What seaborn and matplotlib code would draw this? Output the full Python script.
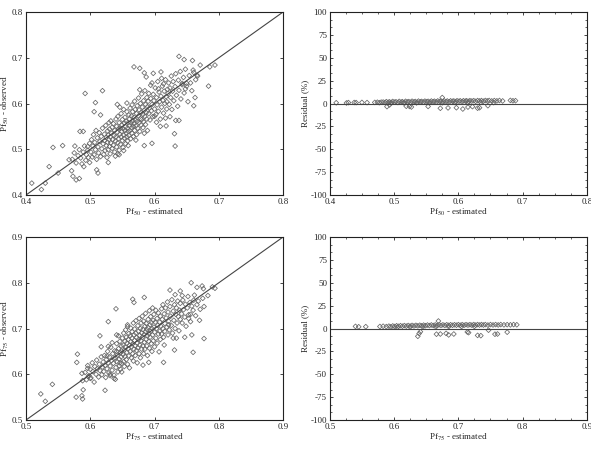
import numpy as np
import pandas as pd
import matplotlib
matplotlib.use('Agg')
import matplotlib.pyplot as plt
from matplotlib.ticker import MultipleLocator
import seaborn as sns

# Pf50: (estimated, observed) points
pf50_points = [
	# outliers / sparse points
	(0.409, 0.426), (0.424, 0.412), (0.430, 0.426), (0.436, 0.462), (0.442, 0.504), (0.450, 0.448),
	(0.457, 0.508), (0.467, 0.477), (0.471, 0.453), (0.473, 0.441), (0.476, 0.507), (0.478, 0.433),
	(0.483, 0.436), (0.484, 0.539), (0.489, 0.539), (0.492, 0.622), (0.490, 0.462), (0.496, 0.506),
	(0.508, 0.602), (0.506, 0.582), (0.510, 0.455), (0.512, 0.448), (0.519, 0.628), (0.516, 0.575),
	(0.528, 0.471), (0.539, 0.485), (0.542, 0.598), (0.545, 0.488), (0.568, 0.680), (0.577, 0.677),
	(0.584, 0.667), (0.587, 0.658), (0.584, 0.508), (0.596, 0.513), (0.598, 0.666), (0.610, 0.669),
	(0.632, 0.507), (0.631, 0.534), (0.633, 0.563), (0.638, 0.563), (0.638, 0.703), (0.646, 0.696),
	(0.659, 0.694), (0.660, 0.673), (0.661, 0.595), (0.663, 0.613), (0.671, 0.684), (0.684, 0.638),
	(0.694, 0.684), (0.686, 0.680), (0.666, 0.662), (0.609, 0.550), (0.618, 0.551), (0.617, 0.568),
	(0.624, 0.571), (0.648, 0.632), (0.650, 0.644), (0.643, 0.644),
	# main cloud
	(0.472, 0.478), (0.475, 0.492), (0.478, 0.470), (0.481, 0.486), (0.483, 0.499), (0.485, 0.481),
	(0.487, 0.468), (0.489, 0.494), (0.491, 0.507), (0.493, 0.476), (0.494, 0.488), (0.496, 0.498),
	(0.497, 0.482), (0.499, 0.513), (0.499, 0.471),
	(0.501, 0.494), (0.502, 0.521), (0.503, 0.483), (0.504, 0.507), (0.505, 0.532), (0.506, 0.488),
	(0.507, 0.515), (0.508, 0.499), (0.509, 0.541), (0.510, 0.478), (0.511, 0.525), (0.512, 0.505),
	(0.513, 0.492), (0.514, 0.536), (0.515, 0.517), (0.516, 0.484), (0.517, 0.528), (0.518, 0.501),
	(0.519, 0.546), (0.520, 0.512), (0.521, 0.489), (0.522, 0.533), (0.522, 0.519), (0.523, 0.497),
	(0.524, 0.552), (0.525, 0.508), (0.525, 0.526), (0.526, 0.482), (0.527, 0.540), (0.527, 0.515),
	(0.528, 0.499), (0.528, 0.531), (0.529, 0.558), (0.529, 0.521), (0.530, 0.506), (0.530, 0.544),
	(0.531, 0.490), (0.531, 0.527), (0.532, 0.514), (0.532, 0.562),
	(0.533, 0.535), (0.534, 0.502), (0.534, 0.548), (0.535, 0.521), (0.536, 0.509), (0.536, 0.556),
	(0.537, 0.530), (0.538, 0.494), (0.538, 0.541), (0.539, 0.518), (0.540, 0.566), (0.540, 0.527),
	(0.541, 0.505), (0.541, 0.550), (0.542, 0.537), (0.543, 0.514), (0.543, 0.572), (0.544, 0.545),
	(0.544, 0.523), (0.545, 0.498), (0.545, 0.558), (0.546, 0.533), (0.547, 0.546), (0.547, 0.511),
	(0.548, 0.578), (0.548, 0.527), (0.549, 0.553), (0.549, 0.539), (0.550, 0.519), (0.550, 0.565),
	(0.551, 0.545), (0.551, 0.504), (0.552, 0.531), (0.552, 0.587), (0.553, 0.557), (0.553, 0.524),
	(0.554, 0.541), (0.554, 0.570), (0.555, 0.512), (0.555, 0.549), (0.556, 0.535), (0.556, 0.561),
	(0.557, 0.527), (0.557, 0.582), (0.558, 0.546), (0.558, 0.518), (0.559, 0.558), (0.559, 0.539),
	(0.560, 0.575), (0.560, 0.530), (0.546, 0.592), (0.552, 0.497), (0.557, 0.601), (0.543, 0.490),
	(0.559, 0.508),
	(0.561, 0.552), (0.561, 0.566), (0.562, 0.541), (0.562, 0.590), (0.563, 0.558), (0.563, 0.523),
	(0.564, 0.573), (0.564, 0.547), (0.565, 0.535), (0.565, 0.597), (0.566, 0.562), (0.566, 0.582),
	(0.567, 0.550), (0.567, 0.528), (0.568, 0.570), (0.568, 0.556), (0.569, 0.605), (0.569, 0.541),
	(0.570, 0.587), (0.570, 0.564), (0.571, 0.551), (0.572, 0.578), (0.572, 0.532), (0.573, 0.595),
	(0.573, 0.561), (0.574, 0.546), (0.575, 0.573), (0.575, 0.612), (0.576, 0.558), (0.576, 0.586),
	(0.577, 0.539), (0.578, 0.567), (0.578, 0.600), (0.579, 0.553), (0.579, 0.580), (0.580, 0.621),
	(0.580, 0.565), (0.581, 0.592), (0.582, 0.547), (0.582, 0.576), (0.583, 0.606), (0.583, 0.560),
	(0.584, 0.585), (0.585, 0.572), (0.585, 0.628), (0.586, 0.598), (0.586, 0.554), (0.587, 0.580),
	(0.588, 0.613), (0.588, 0.566), (0.589, 0.593), (0.589, 0.541), (0.571, 0.520), (0.577, 0.630),
	(0.584, 0.535),
	(0.590, 0.605), (0.591, 0.578), (0.591, 0.622), (0.592, 0.590), (0.593, 0.564), (0.594, 0.611),
	(0.594, 0.640), (0.595, 0.584), (0.596, 0.598), (0.597, 0.571), (0.598, 0.620), (0.599, 0.606),
	(0.600, 0.588), (0.601, 0.634), (0.602, 0.576), (0.603, 0.613), (0.604, 0.597), (0.605, 0.648),
	(0.606, 0.583), (0.607, 0.625), (0.608, 0.604), (0.609, 0.566), (0.610, 0.616), (0.611, 0.592),
	(0.612, 0.638), (0.613, 0.607), (0.614, 0.579), (0.615, 0.627), (0.616, 0.600), (0.617, 0.652),
	(0.618, 0.615), (0.619, 0.588), (0.620, 0.631), (0.596, 0.645), (0.603, 0.559), (0.611, 0.655),
	(0.606, 0.632), (0.600, 0.572), (0.614, 0.643), (0.619, 0.604),
	(0.621, 0.622), (0.622, 0.645), (0.623, 0.598), (0.624, 0.634), (0.625, 0.613), (0.626, 0.660),
	(0.627, 0.587), (0.628, 0.627), (0.629, 0.648), (0.630, 0.606), (0.632, 0.637), (0.633, 0.665),
	(0.634, 0.618), (0.636, 0.594), (0.637, 0.651), (0.638, 0.629), (0.640, 0.670), (0.641, 0.610),
	(0.643, 0.641), (0.645, 0.657), (0.646, 0.623), (0.648, 0.675), (0.650, 0.638), (0.652, 0.604),
	(0.654, 0.661), (0.656, 0.645), (0.658, 0.628), (0.661, 0.668), (0.664, 0.652), (0.667, 0.660),
]

# Pf75: (estimated, observed)
pf75_points = [
	# outliers / sparse points
	(0.523, 0.557), (0.530, 0.541), (0.541, 0.578), (0.578, 0.550), (0.579, 0.626), (0.580, 0.644),
	(0.587, 0.602), (0.588, 0.586), (0.587, 0.553), (0.588, 0.546), (0.589, 0.566), (0.596, 0.613),
	(0.597, 0.595), (0.600, 0.591), (0.615, 0.684), (0.617, 0.660), (0.623, 0.565), (0.628, 0.715),
	(0.631, 0.597), (0.637, 0.591), (0.640, 0.743), (0.641, 0.686), (0.658, 0.708), (0.666, 0.764),
	(0.668, 0.757), (0.682, 0.620), (0.684, 0.768), (0.691, 0.626), (0.714, 0.626), (0.715, 0.664),
	(0.729, 0.679), (0.731, 0.653), (0.734, 0.679), (0.740, 0.782), (0.743, 0.772), (0.747, 0.681),
	(0.758, 0.686), (0.760, 0.648), (0.757, 0.800), (0.766, 0.790), (0.774, 0.793), (0.777, 0.748),
	(0.777, 0.678), (0.770, 0.718), (0.783, 0.772), (0.790, 0.791), (0.794, 0.788), (0.776, 0.787),
	(0.761, 0.762), (0.753, 0.722), (0.756, 0.731), (0.722, 0.708), (0.724, 0.784), (0.732, 0.774),
	# main cloud
	(0.592, 0.604), (0.594, 0.588), (0.596, 0.619), (0.598, 0.597), (0.600, 0.611), (0.601, 0.592),
	(0.603, 0.625), (0.604, 0.606), (0.606, 0.583), (0.607, 0.617), (0.609, 0.600), (0.610, 0.631),
	(0.611, 0.612), (0.613, 0.594), (0.614, 0.622), (0.615, 0.608), (0.617, 0.638), (0.618, 0.599),
	(0.619, 0.616), (0.620, 0.627),
	(0.621, 0.606), (0.622, 0.641), (0.623, 0.619), (0.624, 0.593), (0.625, 0.632), (0.626, 0.612),
	(0.627, 0.650), (0.628, 0.625), (0.629, 0.603), (0.630, 0.638), (0.631, 0.618), (0.632, 0.659),
	(0.633, 0.630), (0.634, 0.609), (0.635, 0.645), (0.636, 0.624), (0.637, 0.598), (0.638, 0.651),
	(0.639, 0.636), (0.640, 0.615), (0.641, 0.667), (0.642, 0.642), (0.642, 0.627), (0.643, 0.605),
	(0.644, 0.656), (0.645, 0.633), (0.645, 0.618), (0.646, 0.672), (0.647, 0.647), (0.647, 0.611),
	(0.648, 0.638), (0.648, 0.662), (0.649, 0.624), (0.649, 0.651), (0.650, 0.679), (0.634, 0.669),
	(0.628, 0.661), (0.639, 0.589), (0.626, 0.640), (0.644, 0.684), (0.631, 0.600), (0.637, 0.634),
	(0.641, 0.650), (0.646, 0.625), (0.649, 0.605),
	(0.651, 0.643), (0.651, 0.664), (0.652, 0.628), (0.652, 0.690), (0.653, 0.653), (0.653, 0.617),
	(0.654, 0.672), (0.654, 0.639), (0.655, 0.659), (0.655, 0.697), (0.656, 0.632), (0.656, 0.681),
	(0.657, 0.648), (0.657, 0.668), (0.658, 0.622), (0.658, 0.704), (0.659, 0.656), (0.659, 0.676),
	(0.660, 0.640), (0.660, 0.689), (0.661, 0.663), (0.661, 0.614), (0.662, 0.684), (0.662, 0.650),
	(0.663, 0.671), (0.663, 0.701), (0.664, 0.636), (0.664, 0.660), (0.665, 0.693), (0.665, 0.679),
	(0.666, 0.645), (0.666, 0.667), (0.667, 0.712), (0.667, 0.629), (0.668, 0.686), (0.668, 0.655),
	(0.669, 0.674), (0.669, 0.699), (0.670, 0.641), (0.670, 0.662), (0.671, 0.690), (0.671, 0.717),
	(0.672, 0.652), (0.672, 0.680), (0.673, 0.668), (0.673, 0.625), (0.674, 0.706), (0.674, 0.658),
	(0.675, 0.694), (0.675, 0.676), (0.676, 0.645), (0.676, 0.722), (0.677, 0.685), (0.677, 0.664),
	(0.678, 0.700), (0.678, 0.636), (0.679, 0.673), (0.679, 0.712), (0.680, 0.655), (0.680, 0.690),
	(0.681, 0.681), (0.681, 0.727), (0.682, 0.662), (0.682, 0.698), (0.683, 0.645), (0.683, 0.716),
	(0.684, 0.687), (0.684, 0.670), (0.685, 0.705), (0.685, 0.655), (0.686, 0.693), (0.686, 0.733),
	(0.687, 0.676), (0.687, 0.711), (0.688, 0.662), (0.688, 0.698), (0.689, 0.684), (0.689, 0.641),
	(0.690, 0.720), (0.690, 0.702), (0.691, 0.672), (0.691, 0.689), (0.692, 0.739), (0.692, 0.657),
	(0.693, 0.708), (0.693, 0.681), (0.694, 0.726), (0.694, 0.694), (0.695, 0.667), (0.695, 0.713),
	(0.696, 0.650), (0.696, 0.700), (0.697, 0.745), (0.697, 0.686), (0.698, 0.718), (0.698, 0.673),
	(0.699, 0.703), (0.699, 0.731), (0.700, 0.692), (0.700, 0.660), (0.701, 0.714), (0.702, 0.679),
	(0.702, 0.740), (0.703, 0.700), (0.704, 0.722), (0.704, 0.668), (0.705, 0.707), (0.706, 0.688),
	(0.706, 0.734), (0.707, 0.649), (0.708, 0.714), (0.708, 0.694), (0.709, 0.727), (0.709, 0.676),
	(0.710, 0.705),
	(0.711, 0.743), (0.711, 0.688), (0.712, 0.720), (0.713, 0.700), (0.713, 0.752), (0.714, 0.681),
	(0.715, 0.732), (0.716, 0.711), (0.716, 0.694), (0.717, 0.745), (0.718, 0.723), (0.719, 0.703),
	(0.720, 0.758), (0.721, 0.686), (0.721, 0.736), (0.722, 0.716), (0.723, 0.697), (0.724, 0.748),
	(0.725, 0.727), (0.726, 0.707), (0.727, 0.763), (0.728, 0.690), (0.729, 0.738), (0.730, 0.718),
	(0.731, 0.752), (0.732, 0.700), (0.733, 0.731), (0.734, 0.745), (0.735, 0.712), (0.736, 0.760),
	(0.737, 0.726), (0.738, 0.695), (0.739, 0.740), (0.740, 0.720), (0.740, 0.755),
	(0.742, 0.732), (0.743, 0.712), (0.744, 0.762), (0.745, 0.741), (0.747, 0.725), (0.748, 0.753),
	(0.749, 0.705), (0.751, 0.745), (0.752, 0.770), (0.753, 0.730), (0.755, 0.757), (0.756, 0.715),
	(0.758, 0.749), (0.760, 0.740), (0.762, 0.773), (0.764, 0.728), (0.766, 0.752), (0.768, 0.760),
	(0.771, 0.742), (0.775, 0.766),
]

# residual panels: (estimated, residual %)
res50_points = [
	(0.410, 0.8), (0.426, 0.6), (0.429, 1.0), (0.438, 1.1), (0.441, 1.0), (0.450, 1.2), (0.458, 1.0),
	(0.470, 1.2), (0.474, 1.4), (0.477, 0.9), (0.480, 1.5),
	(0.483, 1.6), (0.486, 1.1), (0.488, 2.0), (0.491, 1.4), (0.493, 1.8), (0.496, 1.2), (0.498, 2.2),
	(0.501, 1.5), (0.503, 1.9), (0.506, 1.1), (0.508, 2.3), (0.511, 1.6), (0.513, 2.0), (0.516, 1.3),
	(0.518, 2.4), (0.521, 1.7), (0.523, 2.1), (0.526, 1.4), (0.528, 2.5), (0.531, 1.8), (0.533, 2.2),
	(0.536, 1.5), (0.538, 2.6), (0.541, 1.9), (0.543, 2.3), (0.546, 1.6), (0.548, 2.6), (0.551, 2.0),
	(0.553, 2.4), (0.556, 1.7), (0.558, 2.7), (0.561, 2.1), (0.563, 2.5), (0.566, 1.8), (0.568, 2.8),
	(0.571, 2.2), (0.573, 2.6), (0.576, 1.9), (0.578, 2.8), (0.581, 2.3), (0.583, 2.7), (0.586, 2.0),
	(0.588, 2.9), (0.591, 2.4), (0.593, 2.8), (0.596, 2.1), (0.598, 3.0), (0.601, 2.5), (0.603, 2.9),
	(0.606, 2.2), (0.608, 3.0), (0.611, 2.6), (0.613, 3.0), (0.616, 2.3), (0.618, 3.1), (0.621, 2.7),
	(0.624, 3.1), (0.627, 2.4), (0.630, 3.2), (0.633, 2.8), (0.636, 3.2), (0.639, 2.5), (0.642, 3.3),
	(0.645, 2.9), (0.648, 3.3), (0.652, 2.8), (0.656, 3.2), (0.660, 2.9), (0.664, 3.3), (0.669, 2.8),
	(0.681, 3.4), (0.685, 3.0), (0.689, 3.1),
	(0.495, 0.6), (0.515, 0.8), (0.535, 0.7), (0.555, 0.9), (0.575, 0.8), (0.595, 1.0), (0.615, 0.9),
	(0.635, 1.1), (0.655, 1.0),
	(0.575, 6.5), (0.489, -3.4), (0.493, -1.5), (0.519, -3.0), (0.524, -3.2), (0.527, -3.8),
	(0.553, -3.2), (0.572, -5.2), (0.584, -4.8), (0.597, -4.6), (0.607, -6.0), (0.615, -3.9),
	(0.622, -3.4), (0.630, -5.1), (0.633, -4.6), (0.646, -2.4),
]

res75_points = [
	(0.540, 2.3), (0.545, 1.9), (0.556, 2.0), (0.578, 2.2), (0.583, 2.5), (0.588, 2.1),
	(0.592, 2.6), (0.595, 1.9), (0.598, 2.8), (0.601, 2.2), (0.604, 3.0), (0.607, 2.4), (0.610, 3.1),
	(0.613, 2.5), (0.616, 3.2), (0.619, 2.6), (0.622, 3.3), (0.625, 2.7), (0.628, 3.4), (0.631, 2.8),
	(0.634, 3.5), (0.637, 2.9), (0.640, 3.6), (0.643, 3.0), (0.646, 3.7), (0.649, 3.1), (0.652, 3.8),
	(0.655, 3.2), (0.658, 3.9), (0.661, 3.3), (0.664, 3.9), (0.667, 3.3), (0.670, 4.0), (0.673, 3.4),
	(0.676, 4.0), (0.679, 3.4), (0.682, 4.1), (0.685, 3.5), (0.688, 4.1), (0.691, 3.5), (0.694, 4.1),
	(0.697, 3.6), (0.700, 4.2), (0.703, 3.6), (0.706, 4.2), (0.709, 3.6), (0.712, 4.2), (0.715, 3.7),
	(0.718, 4.2), (0.721, 3.7), (0.724, 4.3), (0.727, 3.7), (0.730, 4.3), (0.733, 3.8), (0.736, 4.3),
	(0.739, 3.8), (0.742, 4.3), (0.746, 3.8), (0.750, 4.3), (0.754, 3.9), (0.758, 4.3), (0.762, 3.9),
	(0.766, 4.3), (0.771, 4.0), (0.776, 4.2), (0.781, 4.0), (0.786, 4.3), (0.791, 4.1),
	(0.605, 1.4), (0.625, 1.6), (0.645, 1.8), (0.665, 1.9), (0.685, 2.1), (0.705, 2.2), (0.725, 2.3),
	(0.669, 8.2), (0.637, -8.5), (0.639, -5.5), (0.641, -3.5), (0.666, -6.2), (0.672, -6.0),
	(0.681, -5.3), (0.685, -7.0), (0.693, -6.0), (0.714, -3.8), (0.716, -4.5), (0.730, -7.5),
	(0.735, -7.8), (0.747, -1.8), (0.757, -6.2), (0.761, -6.0), (0.776, -4.0),
]

xlim50 = [0.4, 0.8]
xlim75 = [0.5, 0.9]
ticks50 = [0.4, 0.5, 0.6, 0.7, 0.8]
ticks75 = [0.5, 0.6, 0.7, 0.8, 0.9]
res_ticks = [-100, -75, -50, -25, 0, 25, 50, 75, 100]

sns.set_style('ticks')
plt.rcParams['font.family'] = ['Liberation Serif', 'DejaVu Serif']
plt.rcParams['mathtext.fontset'] = 'stix'

df50 = pd.DataFrame(pf50_points, columns=['est', 'obs'])
df75 = pd.DataFrame(pf75_points, columns=['est', 'obs'])
dres50 = pd.DataFrame(res50_points, columns=['est', 'res'])
dres75 = pd.DataFrame(res75_points, columns=['est', 'res'])

fig = plt.figure(figsize=(5.91, 4.53), dpi=100)
ax1 = fig.add_axes([0.044, 0.5695, 0.435, 0.404])
ax2 = fig.add_axes([0.558, 0.5695, 0.435, 0.404])
ax3 = fig.add_axes([0.044, 0.0728, 0.435, 0.404])
ax4 = fig.add_axes([0.558, 0.0728, 0.435, 0.404])

mk = dict(marker='D', s=6, facecolor='none', edgecolor='#666666', linewidth=0.55)
fs = 6.5

def style_ax(ax, xlim, ylim, xticks, yticks, xlabel, ylabel):
	ax.set_xlim(xlim)
	ax.set_ylim(ylim)
	ax.set_xticks(xticks)
	ax.set_yticks(yticks)
	ax.set_xticklabels([f'{t:g}' for t in xticks], fontsize=fs)
	ax.set_yticklabels([f'{t:g}' for t in yticks], fontsize=fs)
	ax.tick_params(direction='in', top=True, right=True, length=2.5, width=0.6, pad=2)
	ax.set_xlabel(xlabel, fontsize=fs, labelpad=1)
	ax.set_ylabel(ylabel, fontsize=fs, labelpad=1)
	for s in ax.spines.values():
		s.set_linewidth(0.8)
		s.set_color('#222222')

def res_minor(ax):
	ax.xaxis.set_minor_locator(MultipleLocator(0.025))
	ax.yaxis.set_minor_locator(MultipleLocator(25 / 3))
	ax.tick_params(which='minor', direction='in', top=True, right=True, length=1.5, width=0.5)

# Pf50 observed vs estimated
sns.scatterplot(ax=ax1, data=df50, x='est', y='obs', legend=False, **mk)
ax1.plot(xlim50, xlim50, color='#444444', lw=0.8)
style_ax(ax1, xlim50, xlim50, ticks50, ticks50, r'Pf$_{50}$ - estimated', r'Pf$_{50}$ - observed')

# Pf50 residuals
sns.scatterplot(ax=ax2, data=dres50, x='est', y='res', legend=False, **mk)
ax2.axhline(0, color='#444444', lw=0.8)
style_ax(ax2, xlim50, [-100, 100], ticks50, res_ticks, r'Pf$_{50}$ - estimated', 'Residual (%)')
res_minor(ax2)

# Pf75 observed vs estimated
sns.scatterplot(ax=ax3, data=df75, x='est', y='obs', legend=False, **mk)
ax3.plot(xlim75, xlim75, color='#444444', lw=0.8)
style_ax(ax3, xlim75, xlim75, ticks75, ticks75, r'Pf$_{75}$ - estimated', r'Pf$_{75}$ - observed')

# Pf75 residuals
sns.scatterplot(ax=ax4, data=dres75, x='est', y='res', legend=False, **mk)
ax4.axhline(0, color='#444444', lw=0.8)
style_ax(ax4, xlim75, [-100, 100], ticks75, res_ticks, r'Pf$_{75}$ - estimated', 'Residual (%)')
res_minor(ax4)

fig.savefig('out.png', dpi=100)
